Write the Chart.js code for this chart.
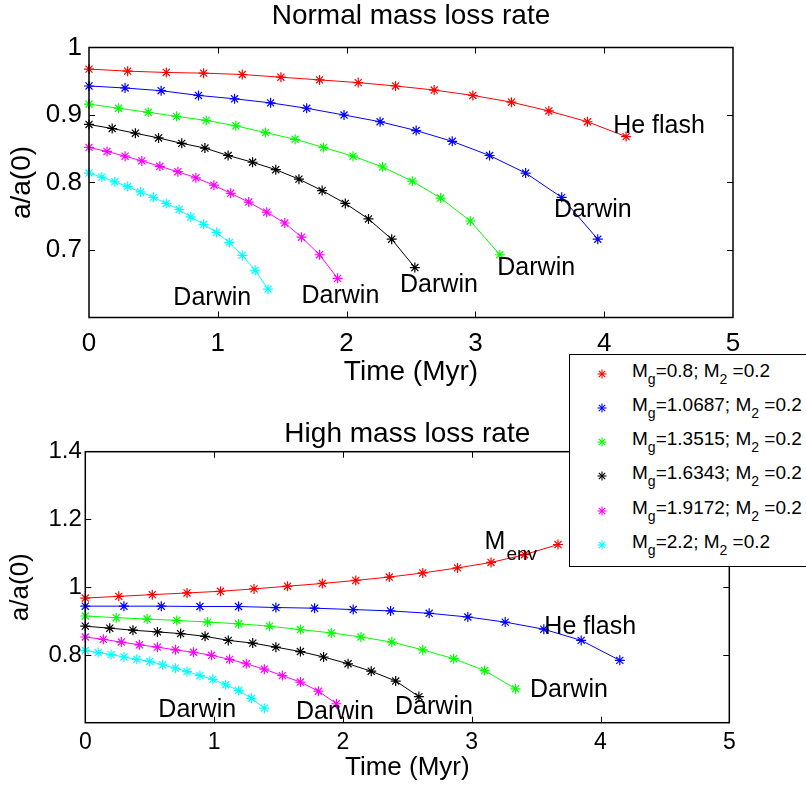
<!DOCTYPE html>
<html>
<head>
<meta charset="utf-8">
<script src="https://cdn.jsdelivr.net/npm/chart.js@4.4.0/dist/chart.umd.min.js"></script>
<style>
body { margin: 0; background: #fff; overflow: hidden; }
#wrap { position: relative; width: 806px; height: 787px; }
canvas { position: absolute; left: 0; }
#topChart { top: 0; }
#bottomChart { top: 400px; }
#legend {
    position: absolute; left: 569px; top: 354px; width: 250px; height: 211px;
    border: 1.5px solid #000; background: #fff; color: #000;
    font-family: 'Liberation Sans', Arial, sans-serif; font-size: 19px;
}
.row { position: absolute; left: 0; width: 100%; height: 34px; line-height: 34px; white-space: nowrap; }
.row svg { position: absolute; left: 27px; top: 15px; }
.row .txt { position: absolute; left: 62px; top: 0; }
.row sub { font-size: 14px; position: relative; top: 7px; vertical-align: baseline; }
</style>
</head>
<body>
<div id="wrap">
    <canvas id="topChart" width="806" height="400"></canvas>
    <canvas id="bottomChart" width="806" height="387"></canvas>
    <div id="legend"></div>
</div>
<script>
const masses = ['0.8', '1.0687', '1.3515', '1.6343', '1.9172', '2.2']
const colors = ['rgb(255,0,0)', 'rgb(0,0,255)', 'rgb(0,255,0)', 'rgb(0,0,0)', 'rgb(255,0,255)', 'rgb(0,255,255)']
const x_ticks = [0, 1, 2, 3, 4, 5]

// Normal mass loss rate
const time_n1 = [0, 0.30, 0.60, 0.89, 1.19, 1.49, 1.79, 2.09, 2.38, 2.68, 2.98, 3.28, 3.57, 3.87, 4.17]
const a_n1 = [0.968, 0.965, 0.963, 0.962, 0.960, 0.956, 0.952, 0.948, 0.943, 0.937, 0.929, 0.919, 0.906, 0.890, 0.868]
const time_n2 = [0, 0.28, 0.56, 0.85, 1.13, 1.41, 1.69, 1.98, 2.26, 2.54, 2.82, 3.11, 3.39, 3.67, 3.95]
const a_n2 = [0.943, 0.940, 0.936, 0.929, 0.924, 0.918, 0.910, 0.900, 0.890, 0.877, 0.861, 0.840, 0.814, 0.778, 0.716]
const time_n3 = [0, 0.23, 0.46, 0.68, 0.91, 1.14, 1.37, 1.60, 1.82, 2.05, 2.28, 2.51, 2.73, 2.96, 3.19]
const a_n3 = [0.916, 0.910, 0.904, 0.898, 0.892, 0.884, 0.874, 0.864, 0.852, 0.839, 0.823, 0.802, 0.777, 0.743, 0.693]
const time_n4 = [0, 0.18, 0.36, 0.54, 0.72, 0.90, 1.08, 1.27, 1.45, 1.63, 1.81, 1.99, 2.17, 2.35, 2.53]
const a_n4 = [0.886, 0.880, 0.873, 0.866, 0.858, 0.851, 0.840, 0.830, 0.819, 0.805, 0.788, 0.769, 0.746, 0.716, 0.674]
const time_n5 = [0, 0.14, 0.28, 0.41, 0.55, 0.69, 0.83, 0.97, 1.10, 1.24, 1.38, 1.52, 1.65, 1.79, 1.93]
const a_n5 = [0.852, 0.846, 0.839, 0.832, 0.824, 0.816, 0.807, 0.796, 0.784, 0.771, 0.756, 0.740, 0.719, 0.693, 0.658]
const time_n6 = [0, 0.10, 0.20, 0.30, 0.40, 0.50, 0.60, 0.70, 0.79, 0.89, 0.99, 1.09, 1.19, 1.29, 1.39]
const a_n6 = [0.814, 0.808, 0.801, 0.794, 0.786, 0.778, 0.769, 0.760, 0.749, 0.738, 0.726, 0.711, 0.692, 0.670, 0.642]

// High mass loss rate
const time_h1 = [0, 0.26, 0.52, 0.79, 1.05, 1.31, 1.57, 1.84, 2.10, 2.36, 2.62, 2.89, 3.15, 3.41, 3.67]
const a_h1 = [0.968, 0.973, 0.978, 0.983, 0.988, 0.995, 1.003, 1.011, 1.020, 1.030, 1.042, 1.057, 1.073, 1.096, 1.126]
const time_h2 = [0, 0.30, 0.59, 0.89, 1.19, 1.48, 1.78, 2.08, 2.37, 2.67, 2.97, 3.26, 3.56, 3.85, 4.15]
const a_h2 = [0.944, 0.944, 0.944, 0.943, 0.943, 0.940, 0.938, 0.934, 0.930, 0.923, 0.912, 0.897, 0.876, 0.843, 0.784]
const time_h3 = [0, 0.24, 0.48, 0.71, 0.95, 1.19, 1.43, 1.67, 1.91, 2.14, 2.38, 2.62, 2.86, 3.10, 3.34]
const a_h3 = [0.915, 0.910, 0.906, 0.902, 0.897, 0.892, 0.885, 0.875, 0.865, 0.853, 0.838, 0.815, 0.789, 0.754, 0.700]
const time_h4 = [0, 0.19, 0.37, 0.56, 0.74, 0.93, 1.11, 1.30, 1.48, 1.67, 1.85, 2.04, 2.22, 2.41, 2.59]
const a_h4 = [0.885, 0.879, 0.873, 0.868, 0.863, 0.855, 0.843, 0.835, 0.823, 0.810, 0.794, 0.774, 0.752, 0.723, 0.677]
const time_h5 = [0, 0.14, 0.28, 0.42, 0.56, 0.70, 0.84, 0.98, 1.12, 1.25, 1.39, 1.53, 1.67, 1.81, 1.95]
const a_h5 = [0.853, 0.846, 0.838, 0.830, 0.823, 0.815, 0.808, 0.799, 0.787, 0.774, 0.758, 0.739, 0.720, 0.693, 0.656]
const time_h6 = [0, 0.10, 0.20, 0.30, 0.40, 0.50, 0.60, 0.70, 0.79, 0.89, 0.99, 1.09, 1.19, 1.29, 1.39]
const a_h6 = [0.813, 0.807, 0.801, 0.794, 0.787, 0.781, 0.771, 0.761, 0.751, 0.739, 0.728, 0.712, 0.695, 0.672, 0.643]

// text labels on the curves (x in Myr, y in a/a(0), baseline left)
const notes_normal = [
    {text: 'He flash', x: 4.07, y: 0.873},
    {text: 'Darwin', x: 3.61, y: 0.749},
    {text: 'Darwin', x: 3.17, y: 0.663},
    {text: 'Darwin', x: 2.415, y: 0.638},
    {text: 'Darwin', x: 1.65, y: 0.621},
    {text: 'Darwin', x: 0.655, y: 0.619}
]
const notes_high = [
    {text: 'M', sub: 'env', x: 3.10, y: 1.114},
    {text: 'He flash', x: 3.564, y: 0.863},
    {text: 'Darwin', x: 3.453, y: 0.675},
    {text: 'Darwin', x: 2.405, y: 0.625},
    {text: 'Darwin', x: 1.636, y: 0.611},
    {text: 'Darwin', x: 0.567, y: 0.616}
]

const series_normal = [[time_n1, a_n1], [time_n2, a_n2], [time_n3, a_n3], [time_n4, a_n4], [time_n5, a_n5], [time_n6, a_n6]]
const series_high = [[time_h1, a_h1], [time_h2, a_h2], [time_h3, a_h3], [time_h4, a_h4], [time_h5, a_h5], [time_h6, a_h6]]

const FONT = "'Liberation Sans', Arial, sans-serif"

function make_datasets(series){
    var sets = []
    for (let i = 0; i < series.length; i++) {
        const t = series[i][0]
        const a = series[i][1]
        var pts = []
        for (let j = 0; j < t.length; j++) {
            pts.push({x: t[j], y: a[j]})
        }
        sets.push({
            data: pts,
            borderColor: colors[i],
            backgroundColor: colors[i],
            borderWidth: 1,
            pointStyle: 'star',
            pointRadius: 5,
            pointHoverRadius: 5,
            pointBorderWidth: 1.2,
            pointBorderColor: colors[i],
            tension: 0,
            clip: false
        })
    }
    return sets
}

// box around the axes, inward ticks, title and the curve labels
function make_frame(title, titleGap, notes){
    return {
        id: 'frame',
        afterDraw(chart){
            const c = chart.ctx
            const a = chart.chartArea
            const sx = chart.scales.x
            const sy = chart.scales.y
            c.save()
            c.strokeStyle = '#000'
            c.lineWidth = 1.5
            c.strokeRect(a.left, a.top, a.right - a.left, a.bottom - a.top)
            c.lineWidth = 1
            c.beginPath()
            sx.ticks.forEach(t => {
                const x = Math.round(sx.getPixelForValue(t.value)) + 0.5
                if (x < a.left + 3 || x > a.right - 3) return
                c.moveTo(x, a.bottom); c.lineTo(x, a.bottom - 6)
                c.moveTo(x, a.top); c.lineTo(x, a.top + 6)
            })
            sy.ticks.forEach(t => {
                const y = Math.round(sy.getPixelForValue(t.value)) + 0.5
                if (y < a.top + 3 || y > a.bottom - 3) return
                c.moveTo(a.left, y); c.lineTo(a.left + 6, y)
                c.moveTo(a.right, y); c.lineTo(a.right - 6, y)
            })
            c.stroke()

            c.fillStyle = '#000'
            c.textBaseline = 'alphabetic'
            c.textAlign = 'center'
            c.font = '28px ' + FONT
            c.fillText(title, (a.left + a.right) / 2, a.top - titleGap)

            c.textAlign = 'left'
            notes.forEach(n => {
                const x = sx.getPixelForValue(n.x)
                const y = sy.getPixelForValue(n.y)
                c.font = '25px ' + FONT
                c.fillText(n.text, x, y)
                if (n.sub) {
                    const w = c.measureText(n.text).width
                    c.font = '19px ' + FONT
                    c.fillText(n.sub, x + w + 1, y + 11.5)
                }
            })
            c.restore()
        }
    }
}

function y_label(v, hide){
    if (Math.abs(v - hide) < 1e-6) return ''
    return String(+v.toFixed(1))
}

const ctx = document.getElementById('topChart').getContext('2d')
const topChart = new Chart(ctx, {
    type: 'line',
    data: { datasets: make_datasets(series_normal) },
    options: {
        responsive: false,
        animation: false,
        events: [],
        layout: { padding: { left: 0, right: 73, top: 47.5, bottom: 11 } },
        plugins: { legend: { display: false }, tooltip: { enabled: false } },
        scales: {
            x: {
                type: 'linear', min: 0, max: 5,
                afterBuildTicks: s => { s.ticks = x_ticks.map(v => ({value: v})) },
                afterFit: s => { s.height = 71.5 },
                grid: { display: false, drawTicks: false },
                border: { display: false },
                ticks: { color: '#000', font: { family: FONT, size: 26 }, padding: 11, maxRotation: 0 },
                title: { display: true, text: 'Time (Myr)', color: '#000', font: { family: FONT, size: 28 }, padding: 0 }
            },
            y: {
                min: 0.6, max: 1.0,
                ticks: { stepSize: 0.1, color: '#000', font: { family: FONT, size: 26 }, padding: 7,
                    callback: v => y_label(v, 0.6) },
                afterFit: s => { s.width = 89 },
                grid: { display: false, drawTicks: false },
                border: { display: false },
                title: { display: true, text: 'a/a(0)', color: '#000', font: { family: FONT, size: 28 }, padding: { top: 5, bottom: 0 } }
            }
        }
    },
    plugins: [make_frame('Normal mass loss rate', 23.5, notes_normal)]
})

const ctxs = document.getElementById('bottomChart').getContext('2d')
const bottomChart = new Chart(ctxs, {
    type: 'line',
    data: { datasets: make_datasets(series_high) },
    options: {
        responsive: false,
        animation: false,
        events: [],
        layout: { padding: { left: 0, right: 76.7, top: 51.7, bottom: 4 } },
        plugins: { legend: { display: false }, tooltip: { enabled: false } },
        scales: {
            x: {
                type: 'linear', min: 0, max: 5,
                afterBuildTicks: s => { s.ticks = x_ticks.map(v => ({value: v})) },
                afterFit: s => { s.height = 60.3 },
                grid: { display: false, drawTicks: false },
                border: { display: false },
                ticks: { color: '#000', font: { family: FONT, size: 23 }, padding: 6, maxRotation: 0 },
                title: { display: true, text: 'Time (Myr)', color: '#000', font: { family: FONT, size: 26 }, padding: 0 }
            },
            y: {
                min: 0.6, max: 1.4,
                ticks: { stepSize: 0.2, color: '#000', font: { family: FONT, size: 24 }, padding: 3.5,
                    callback: v => y_label(v, 0.6) },
                afterFit: s => { s.width = 85.3 },
                grid: { display: false, drawTicks: false },
                border: { display: false },
                title: { display: true, text: 'a/a(0)', color: '#000', font: { family: FONT, size: 26 }, padding: { top: 5, bottom: 0 } }
            }
        }
    },
    plugins: [make_frame('High mass loss rate', 10.2, notes_high)]
})

// legend with subscripts, drawn as html on top of both plots
function star_svg(color){
    return '<svg width="10" height="10" viewBox="0 0 10 10"><g stroke="' + color + '" stroke-width="1.1">' +
        '<line x1="5" y1="0.5" x2="5" y2="9.5"/><line x1="0.5" y1="5" x2="9.5" y2="5"/>' +
        '<line x1="1.8" y1="1.8" x2="8.2" y2="8.2"/><line x1="8.2" y1="1.8" x2="1.8" y2="8.2"/></g></svg>'
}
const legend = document.getElementById('legend')
for (let i = 0; i < masses.length; i++) {
    const row = document.createElement('div')
    row.className = 'row'
    row.style.top = (-1.5 + i * 34.3) + 'px'
    row.innerHTML = star_svg(colors[i]) +
        '<span class="txt">M<sub>g</sub>=' + masses[i] + '; M<sub>2</sub> =0.2</span>'
    legend.appendChild(row)
}
</script>
</body>
</html>
